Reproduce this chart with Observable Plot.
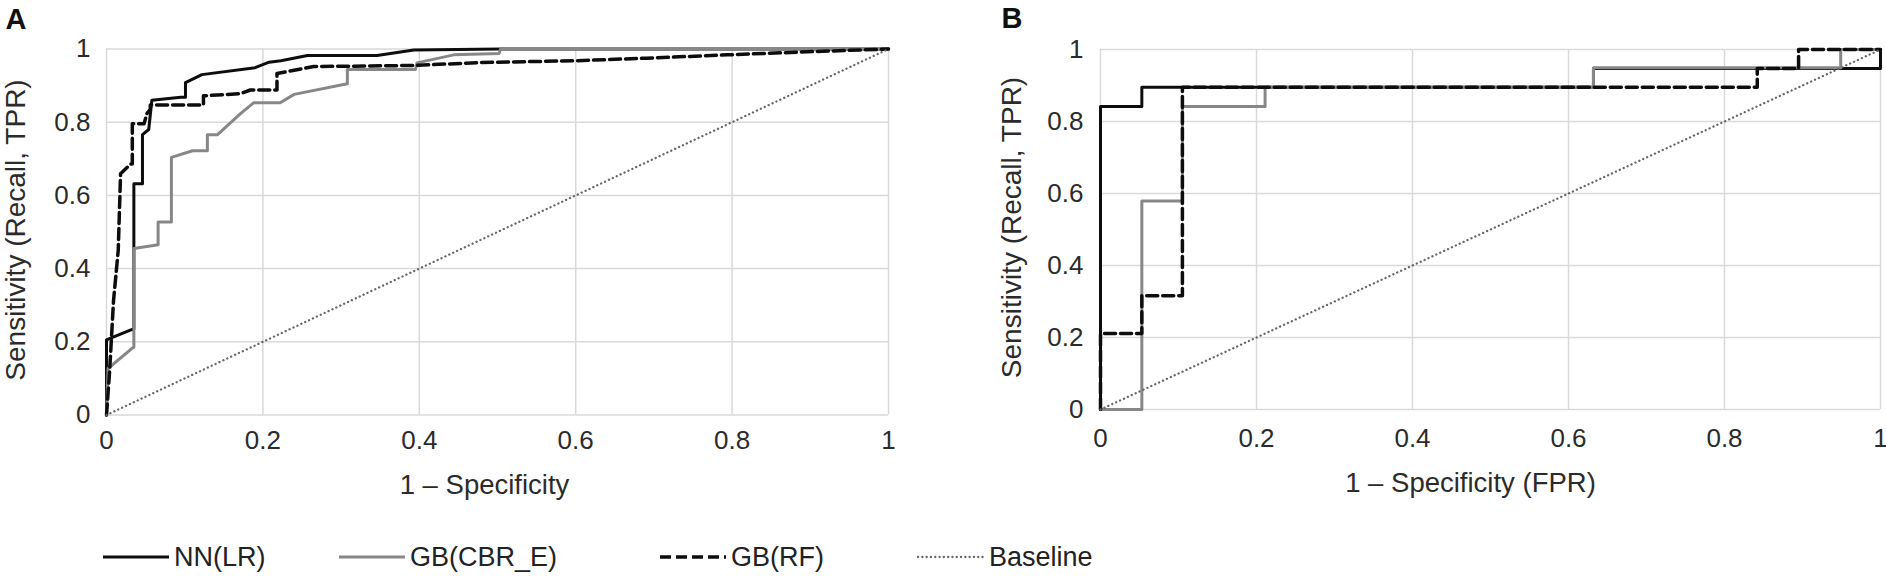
<!DOCTYPE html>
<html><head><meta charset="utf-8">
<script src="https://cdn.jsdelivr.net/npm/d3@7"></script>
<script src="https://cdn.jsdelivr.net/npm/@observablehq/plot@0.6"></script>
<style>
html,body{margin:0;padding:0;background:#fff;}
#wrap{position:relative;width:1886px;height:576px;font-family:"Liberation Sans",Arial,sans-serif;}
#panelA{position:absolute;left:0;top:0;}
#panelB{position:absolute;left:940px;top:0;}
#legend{position:absolute;left:0;top:530px;}
svg{overflow:visible;}
</style></head><body>
<div id="wrap"><div id="panelA"></div><div id="panelB"></div><div id="legend"></div></div>
<script>
// ---- data ----
const ticks = [0, 0.2, 0.4, 0.6, 0.8, 1];
const seriesNames = ["NN(LR)", "GB(CBR_E)", "GB(RF)", "Baseline"];
const yTitle = "Sensitivity (Recall, TPR)";
const xTitleA = "1 \u2013 Specificity";
const xTitleB = "1 \u2013 Specificity (FPR)";

// Panel A
const aNNx = [0, 0, 0.003, 0.032, 0.035, 0.035, 0.046, 0.046, 0.054, 0.058, 0.095, 0.101, 0.101, 0.122, 0.19, 0.208, 0.223, 0.257, 0.346, 0.393, 0.504, 1];
const aNNy = [0, 0.205, 0.208, 0.233, 0.235, 0.632, 0.632, 0.766, 0.78, 0.86, 0.868, 0.868, 0.908, 0.93, 0.949, 0.964, 0.968, 0.982, 0.982, 0.997, 1, 1];
const aCBRx = [0, 0.002, 0.033, 0.035, 0.035, 0.066, 0.066, 0.083, 0.083, 0.11, 0.129, 0.129, 0.142, 0.171, 0.188, 0.222, 0.24, 0.308, 0.308, 0.395, 0.397, 0.444, 0.502, 0.504, 1];
const aCBRy = [0, 0.127, 0.183, 0.185, 0.455, 0.465, 0.527, 0.527, 0.704, 0.722, 0.722, 0.766, 0.766, 0.823, 0.853, 0.853, 0.876, 0.905, 0.944, 0.944, 0.962, 0.984, 0.988, 1, 1];
const aRFx = [0, 0.004, 0.009, 0.015, 0.018, 0.031, 0.033, 0.033, 0.048, 0.052, 0.056, 0.056, 0.124, 0.124, 0.171, 0.184, 0.218, 0.218, 0.265, 0.393, 0.478, 0.602, 0.691, 0.794, 0.904, 1];
const aRFy = [0, 0.12, 0.313, 0.45, 0.659, 0.686, 0.686, 0.796, 0.796, 0.825, 0.835, 0.847, 0.847, 0.872, 0.878, 0.888, 0.888, 0.933, 0.952, 0.955, 0.963, 0.968, 0.975, 0.984, 0.993, 1];

// Panel B
const bNNx = [0, 0, 0.053, 0.053, 0.632, 0.632, 1, 1];
const bNNy = [0, 0.842, 0.842, 0.895, 0.895, 0.947, 0.947, 1];
const bCBRx = [0, 0.053, 0.053, 0.105, 0.105, 0.211, 0.211, 0.632, 0.632, 0.949, 0.949, 1];
const bCBRy = [0, 0, 0.579, 0.579, 0.842, 0.842, 0.895, 0.895, 0.949, 0.949, 1, 1];
const bRFx = [0, 0, 0.053, 0.053, 0.105, 0.105, 0.842, 0.842, 0.895, 0.895, 1];
const bRFy = [0, 0.211, 0.211, 0.316, 0.316, 0.895, 0.895, 0.947, 0.947, 1, 1];

const baseX = [0, 1];
const baseY = [0, 1];

// ---- styles ----
const FONT = '"Liberation Sans", Arial, sans-serif';
const styles = {
  "NN(LR)": {stroke: "#0d0d0d", strokeWidth: 3},
  "GB(CBR_E)": {stroke: "#878787", strokeWidth: 3},
  "GB(RF)": {stroke: "#0d0d0d", strokeWidth: 3.5, strokeDasharray: "11,5"},
  "Baseline": {stroke: "#666", strokeWidth: 2.3, strokeDasharray: "0.1,4.2", strokeLinecap: "round"}
};
const rows = (xs, ys) => xs.map((x, i) => ({x, y: ys[i]}));
const fmt = d => String(+d.toFixed(1));

function panel(o) {
  const series = [
    [seriesNames[0], rows(o.nn[0], o.nn[1])],
    [seriesNames[1], rows(o.cbr[0], o.cbr[1])],
    [seriesNames[2], rows(o.rf[0], o.rf[1])],
    [seriesNames[3], rows(baseX, baseY)]
  ];
  return Plot.plot({
    width: o.width,
    height: o.marginTop + o.plotH + o.marginBottom,
    marginLeft: o.marginLeft, marginRight: o.marginRight,
    marginTop: o.marginTop, marginBottom: o.marginBottom,
    style: {fontFamily: FONT, fontSize: "26px", color: "#2b2b2b", background: "transparent", overflow: "visible"},
    x: {domain: [0, 1], label: null},
    y: {domain: [0, 1], label: null},
    marks: [
      Plot.gridX(ticks, {stroke: "#d9d9d9", strokeOpacity: 1, strokeWidth: 1.5}),
      Plot.gridY(ticks, {stroke: "#d9d9d9", strokeOpacity: 1, strokeWidth: 1.5}),
      Plot.axisX(ticks, {tickSize: 0, tickPadding: o.xPad, tickFormat: fmt, label: null, fontSize: 26}),
      Plot.axisY(ticks, {tickSize: 0, tickPadding: o.yPad, tickFormat: fmt, label: null, fontSize: 26}),
      ...series.map(([name, data]) => Plot.line(data, {x: "x", y: "y", ...styles[name]})),
      Plot.text([o.xTitle], {text: d => d, frameAnchor: "bottom", textAnchor: "middle", lineAnchor: "middle", dy: o.titleDy, dx: o.titleDx, fontSize: 27.5, fill: "#2b2b2b"}),
      Plot.text([yTitle], {text: d => d, frameAnchor: "left", textAnchor: "middle", lineAnchor: "middle", rotate: -90, dx: o.yDx, dy: o.yDy, fontSize: 28, fill: "#2b2b2b"}),
      Plot.text([o.letter], {text: d => d, frameAnchor: "top-left", textAnchor: "start", lineAnchor: "middle", dx: o.letterDx, dy: o.letterDy, fontSize: 29, fontWeight: "bold", fill: "#111"})
    ]
  });
}

document.getElementById("panelA").append(panel({
  letter: "A", nn: [aNNx, aNNy], cbr: [aCBRx, aCBRy], rf: [aRFx, aRFy],
  width: 940, marginLeft: 106, marginRight: 52, marginTop: 48.5, plotH: 366, marginBottom: 90,
  xPad: 16, yPad: 16, xTitle: xTitleA, titleDy: 70.5, titleDx: -13,
  yDx: -90, yDy: -2, letterDx: -101, letterDy: -29
}));

document.getElementById("panelB").append(panel({
  letter: "B", nn: [bNNx, bNNy], cbr: [bCBRx, bCBRy], rf: [bRFx, bRFy],
  width: 946, marginLeft: 160, marginRight: 6, marginTop: 49, plotH: 360, marginBottom: 95,
  xPad: 19, yPad: 17, xTitle: xTitleB, titleDy: 74, titleDx: -20,
  yDx: -88, yDy: -2, letterDx: -99, letterDy: -30.5
}));

// ---- legend ----
const legendX = [103, 339, 660, 918];
const lsvg = d3.select("#legend").append("svg").attr("width", 1200).attr("height", 46)
  .style("font-family", FONT).style("overflow", "visible");
seriesNames.forEach((name, i) => {
  const s = styles[name];
  const g = lsvg.append("g").attr("transform", `translate(${legendX[i]},27)`);
  g.append("line").attr("x1", 0).attr("x2", 66).attr("y1", 0).attr("y2", 0)
    .attr("stroke", s.stroke).attr("stroke-width", s.strokeWidth)
    .attr("stroke-dasharray", s.strokeDasharray || null)
    .attr("stroke-linecap", s.strokeLinecap || null);
  g.append("text").attr("x", 71).attr("y", 0).attr("dy", "0.35em")
    .attr("font-size", 27).attr("fill", "#222").text(name);
});
</script>
</body></html>
